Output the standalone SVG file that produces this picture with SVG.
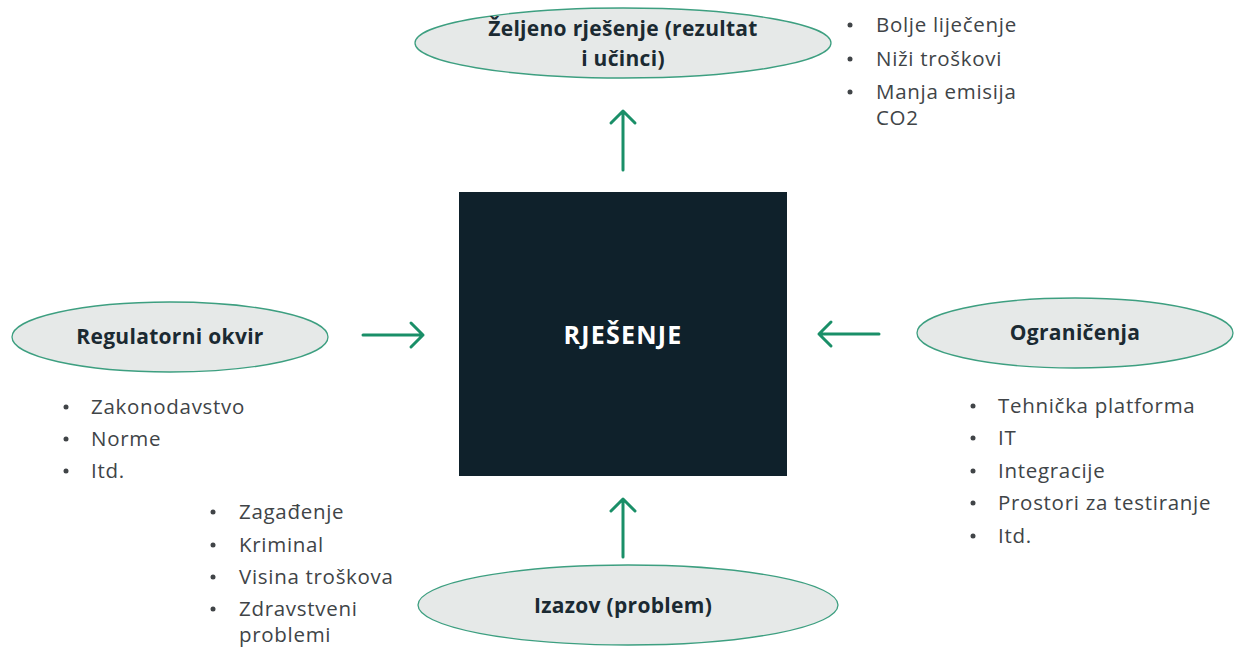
<svg xmlns="http://www.w3.org/2000/svg" width="1234" height="648" viewBox="0 0 1234 648">
  <defs>
    <style>
      .oval { fill: #e6e9e8; stroke: #3d9f80; stroke-width: 1.3; }
      .head { font-family: "Open Sans", "Liberation Sans", sans-serif; font-weight: 700; font-size: 21px; letter-spacing: 0.3px; fill: #1b2a32; text-anchor: middle; }
      .item { font-family: "Open Sans", "Liberation Sans", sans-serif; font-size: 20.5px; letter-spacing: 0.7px; fill: #404447; }
      .dot { fill: #404447; }
      .link { stroke: #1a8f68; stroke-width: 3; fill: none; stroke-linecap: round; stroke-linejoin: round; }
    </style>
  </defs>
  <rect width="1234" height="648" fill="#ffffff"/>

  <!-- central block -->
  <g id="rjesenje">
    <rect x="459" y="192" width="328" height="284" fill="#0f212b"/>
    <text x="623" y="344" font-family="Open Sans, Liberation Sans, sans-serif" font-weight="700" font-size="25" letter-spacing="1.2" fill="#ffffff" text-anchor="middle">RJEŠENJE</text>
  </g>

  <!-- desired outcome -->
  <g id="zeljeno-rjesenje">
    <ellipse class="oval" cx="623" cy="43" rx="208" ry="35"/>
    <text class="head" x="623" y="36">Željeno rješenje (rezultat</text>
    <text class="head" x="623" y="66">i učinci)</text>
  </g>
  <g id="zeljeno-lista">
    <circle class="dot" cx="850" cy="25" r="2.5"/>
    <text class="item" x="876" y="32">Bolje liječenje</text>
    <circle class="dot" cx="850" cy="59" r="2.5"/>
    <text class="item" x="876" y="66">Niži troškovi</text>
    <circle class="dot" cx="850" cy="92" r="2.5"/>
    <text class="item" x="876" y="99">Manja emisija</text>
    <text class="item" x="876" y="125">CO2</text>
  </g>

  <!-- regulatory frame -->
  <g id="regulatorni-okvir">
    <ellipse class="oval" cx="170" cy="337" rx="158" ry="35"/>
    <text class="head" x="170" y="344">Regulatorni okvir</text>
  </g>
  <g id="regulatorni-lista">
    <circle class="dot" cx="66" cy="407" r="2.5"/>
    <text class="item" x="91" y="414">Zakonodavstvo</text>
    <circle class="dot" cx="66" cy="439" r="2.5"/>
    <text class="item" x="91" y="446">Norme</text>
    <circle class="dot" cx="66" cy="471" r="2.5"/>
    <text class="item" x="91" y="478">Itd.</text>
  </g>

  <!-- constraints -->
  <g id="ogranicenja">
    <ellipse class="oval" cx="1075" cy="333" rx="158" ry="35"/>
    <text class="head" x="1075" y="340">Ograničenja</text>
  </g>
  <g id="ogranicenja-lista">
    <circle class="dot" cx="973" cy="406" r="2.5"/>
    <text class="item" x="998" y="413">Tehnička platforma</text>
    <circle class="dot" cx="973" cy="438" r="2.5"/>
    <text class="item" x="998" y="445">IT</text>
    <circle class="dot" cx="973" cy="471" r="2.5"/>
    <text class="item" x="998" y="478">Integracije</text>
    <circle class="dot" cx="973" cy="503" r="2.5"/>
    <text class="item" x="998" y="510">Prostori za testiranje</text>
    <circle class="dot" cx="973" cy="536" r="2.5"/>
    <text class="item" x="998" y="543">Itd.</text>
  </g>

  <!-- challenge -->
  <g id="izazov">
    <ellipse class="oval" cx="628" cy="605" rx="210" ry="40"/>
    <text class="head" x="623" y="613">Izazov (problem)</text>
  </g>
  <g id="izazov-lista">
    <circle class="dot" cx="213" cy="512" r="2.5"/>
    <text class="item" x="239" y="519">Zagađenje</text>
    <circle class="dot" cx="213" cy="545" r="2.5"/>
    <text class="item" x="239" y="552">Kriminal</text>
    <circle class="dot" cx="213" cy="577" r="2.5"/>
    <text class="item" x="239" y="584">Visina troškova</text>
    <circle class="dot" cx="213" cy="609" r="2.5"/>
    <text class="item" x="239" y="616">Zdravstveni</text>
    <text class="item" x="239" y="642">problemi</text>
  </g>

  <!-- connectors -->
  <g id="connectors">
    <path class="link" d="M623 170 V111 M611 123 L623 111 L635 123"/>
    <path class="link" d="M623 557 V499 M611 511 L623 499 L635 511"/>
    <path class="link" d="M363 335 H423 M411 323 L423 335 L411 347"/>
    <path class="link" d="M879 334 H819 M831 322 L819 334 L831 346"/>
  </g>
</svg>
